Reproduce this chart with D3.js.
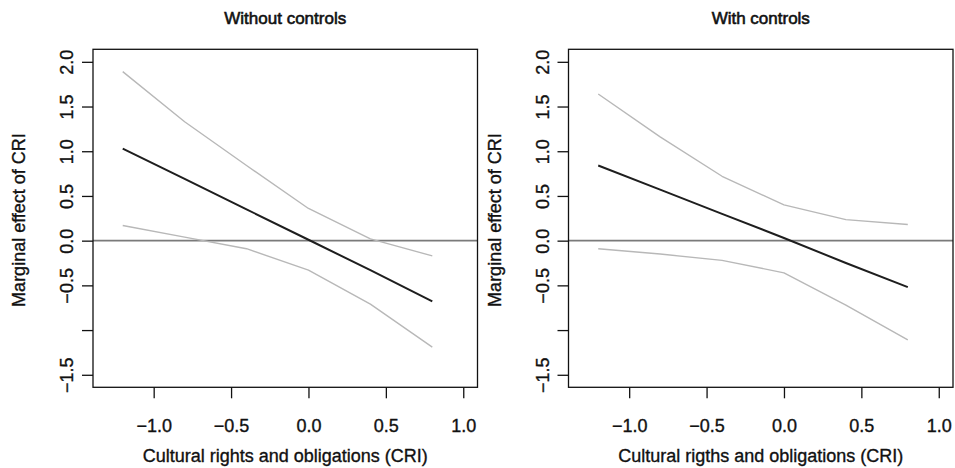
<!DOCTYPE html>
<html>
<head>
<meta charset="utf-8">
<script src="https://cdn.jsdelivr.net/npm/d3@7/dist/d3.min.js"></script>
<style>
  html, body { margin: 0; padding: 0; background: #fff; }
  svg { display: block; }
  text { font-family: "Liberation Sans", Arial, sans-serif; fill: #111; stroke: #111; stroke-width: 0.35px; }
</style>
</head>
<body>
<script>
// CRI values where the marginal effect was evaluated
const cri = [-1.2, -0.8, -0.4, 0, 0.4, 0.8];

// panel 1: without controls
const noCtrlEst = [1.03, 0.69, 0.35, 0.01, -0.33, -0.68];
const noCtrlUpper = [1.89, 1.33, 0.84, 0.36, 0.02, -0.17];
const noCtrlLower = [0.17, 0.04, -0.09, -0.33, -0.71, -1.19];

// panel 2: with controls
const ctrlEst = [0.84, 0.57, 0.30, 0.03, -0.25, -0.52];
const ctrlUpper = [1.64, 1.16, 0.72, 0.40, 0.235, 0.18];
const ctrlLower = [-0.09, -0.15, -0.22, -0.36, -0.72, -1.11];

const xTicks = [-1.0, -0.5, 0.0, 0.5, 1.0];
const yTicks = [2.0, 1.5, 1.0, 0.5, 0.0, -0.5, -1.0, -1.5];
const yTickLabels = ["2.0", "1.5", "1.0", "0.5", "0.0", "\u22120.5", "", "\u22121.5"];

const W = 955, H = 468;
const svg = d3.select("body").append("svg").attr("width", W).attr("height", H);

/* ── one panel ── */
function drawPanel(ox, title, xlab, est, upper, lower) {
  const left = 93, right = 477.5, top = 49.3, bottom = 387.3;
  const g = svg.append("g").attr("transform", "translate(" + ox + ",0)");

  const x = d3.scaleLinear().domain([-1.392, 1.092]).range([left, right]);
  const y = d3.scaleLinear().domain([-1.64, 2.14]).range([bottom, top]);

  // zero reference line
  g.append("line")
    .attr("x1", left).attr("x2", right)
    .attr("y1", y(0)).attr("y2", y(0))
    .attr("stroke", "#7a7a7a").attr("stroke-width", 1.6);

  const line = d3.line().x((d) => x(d[0])).y((d) => y(d[1]));
  const series = [
    { v: upper, color: "#b8b8b8", w: 1.4 },
    { v: lower, color: "#b8b8b8", w: 1.4 },
    { v: est, color: "#1e1e1e", w: 2 },
  ];
  for (const s of series) {
    g.append("path")
      .datum(cri.map((c, i) => [c, s.v[i]]))
      .attr("d", line)
      .attr("fill", "none")
      .attr("stroke", s.color)
      .attr("stroke-width", s.w)
      .attr("stroke-linejoin", "round");
  }

  // box
  g.append("rect")
    .attr("x", left).attr("y", top)
    .attr("width", right - left).attr("height", bottom - top)
    .attr("fill", "none").attr("stroke", "#111").attr("stroke-width", 1.3);

  // x axis
  const xa = g.append("g")
    .attr("transform", "translate(0," + bottom + ")")
    .call(d3.axisBottom(x).tickValues(xTicks).tickSize(11).tickPadding(21)
      .tickFormat(d3.format(".1f")));
  xa.select(".domain").remove();
  xa.selectAll("line").attr("stroke", "#111").attr("stroke-width", 1.3);
  xa.selectAll("text").style("font-size", "18px").attr("fill", "#111");

  // y axis, labels parallel to the axis
  const ya = g.append("g")
    .attr("transform", "translate(" + left + ",0)")
    .call(d3.axisLeft(y).tickValues(yTicks).tickSize(11)
      .tickFormat((d, i) => yTickLabels[i]));
  ya.select(".domain").remove();
  ya.selectAll("line").attr("stroke", "#111").attr("stroke-width", 1.3);
  ya.selectAll("text")
    .style("font-size", "18px")
    .attr("fill", "#111")
    .attr("transform", "rotate(-90)")
    .attr("x", 0).attr("y", -20).attr("dy", 0)
    .attr("text-anchor", "middle");

  // titles
  const cx = (left + right) / 2;
  g.append("text")
    .attr("x", cx).attr("y", 24)
    .attr("text-anchor", "middle")
    .style("font-size", "17px")
    .style("stroke-width", "0.6px")
    .text(title);
  g.append("text")
    .attr("x", cx).attr("y", 461.5)
    .attr("text-anchor", "middle")
    .style("font-size", "18px")
    .text(xlab);
  g.append("text")
    .attr("transform", "translate(25," + 220 + ") rotate(-90)")
    .attr("text-anchor", "middle")
    .style("font-size", "18px")
    .text("Marginal effect of CRI");
}

drawPanel(0, "Without controls", "Cultural rights and obligations (CRI)", noCtrlEst, noCtrlUpper, noCtrlLower);
drawPanel(475.5, "With controls", "Cultural rigths and obligations (CRI)", ctrlEst, ctrlUpper, ctrlLower);
</script>
</body>
</html>
